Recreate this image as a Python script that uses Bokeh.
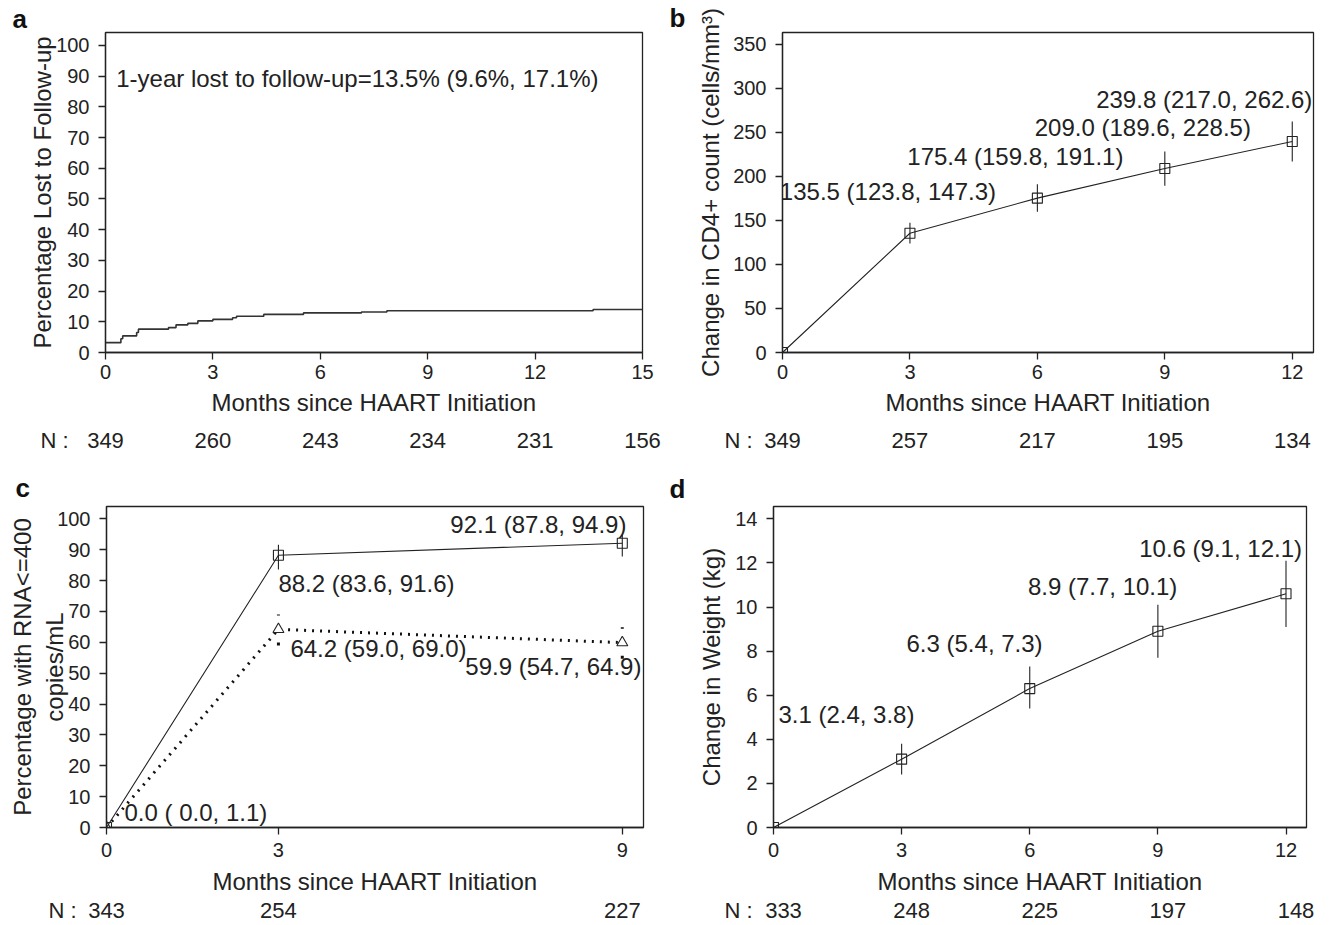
from bokeh.plotting import figure
from bokeh.models import (Range1d, FixedTicker, Label, LabelSet, ColumnDataSource,
                          LinearAxis, Title)
from bokeh.core.properties import value
from bokeh.layouts import column, row
from bokeh.embed import file_html
from bokeh.resources import INLINE

FONT = "Liberation Sans"
INK = "#222222"

# ---------------- data ----------------
# a: Kaplan-Meier percentage lost to follow-up (step curve)
km_months = [0, 0.43, 0.48, 0.87, 0.92, 1.76, 1.97, 2.30, 2.58, 3.00, 3.55, 3.66, 4.42, 5.53, 7.15, 7.86, 13.62, 15.0]
km_pct = [3.2, 4.5, 5.4, 6.5, 7.6, 8.1, 9.0, 9.5, 10.3, 10.8, 11.3, 11.8, 12.4, 12.9, 13.2, 13.6, 14.0, 14.0]
a_months = [0, 3, 6, 9, 12, 15]
a_n = [349, 260, 243, 234, 231, 156]
a_note = "1-year lost to follow-up=13.5% (9.6%, 17.1%)"

# b: change in CD4+ count
b_months = [0, 3, 6, 9, 12]
b_cd4 = [0.0, 135.5, 175.4, 209.0, 239.8]
b_lo = [0.0, 123.8, 159.8, 189.6, 217.0]
b_hi = [0.0, 147.3, 191.1, 228.5, 262.6]
b_n = [349, 257, 217, 195, 134]

# c: percentage with RNA <= 400 copies/mL
c_months = [0, 3, 9]
c_sq = [0.0, 88.2, 92.1]
c_sq_lo = [0.0, 83.6, 87.8]
c_sq_hi = [1.1, 91.6, 94.9]
c_tri = [0.0, 64.2, 59.9]
c_tri_lo = [0.0, 59.0, 54.7]
c_tri_hi = [1.1, 69.0, 64.9]
c_n = [343, 254, 227]

# d: change in weight
d_months = [0, 3, 6, 9, 12]
d_kg = [0.0, 3.1, 6.3, 8.9, 10.6]
d_lo = [0.0, 2.4, 5.4, 7.7, 9.1]
d_hi = [0.0, 3.8, 7.3, 10.1, 12.1]
d_n = [333, 248, 225, 197, 148]

XTITLE = "Months since HAART Initiation"
N_FS = 22           # font size of the N row
N_H = 26            # approx. text box height of the N row


def base_fig(w, h, xr, yr, left, right, top, bottom, xticks, yticks, ylabel,
             xstand, xlabstand, ystand, ylabstand, letter, l_off, l_stand):
    p = figure(width=w, height=h, x_range=Range1d(*xr), y_range=Range1d(*yr),
               output_backend="svg", toolbar_location=None,
               min_border_left=left, min_border_right=right,
               min_border_top=top, min_border_bottom=bottom)
    p.xgrid.visible = False
    p.ygrid.visible = False
    p.outline_line_color = INK
    p.outline_line_width = 1.3
    p.outline_line_alpha = 1.0
    p.background_fill_color = "white"
    p.border_fill_color = "white"
    p.xaxis.ticker = FixedTicker(ticks=xticks)
    p.yaxis.ticker = FixedTicker(ticks=yticks)
    p.xaxis.axis_label = XTITLE
    p.yaxis.axis_label = ylabel
    for ax in (p.xaxis[0], p.yaxis[0]):
        ax.axis_line_color = INK
        ax.axis_line_width = 1.3
        ax.major_tick_line_color = INK
        ax.major_tick_line_width = 1.3
        ax.major_tick_in = 0
        ax.major_tick_out = 7
        ax.minor_tick_line_color = None
        ax.major_label_text_font = FONT
        ax.major_label_text_font_size = "20px"
        ax.major_label_text_color = INK
        ax.axis_label_text_font = FONT
        ax.axis_label_text_font_size = "24px"
        ax.axis_label_text_font_style = "normal"
        ax.axis_label_text_color = INK
    p.xaxis.major_label_standoff = xstand
    p.xaxis.axis_label_standoff = xlabstand
    p.yaxis.major_label_standoff = ystand
    p.yaxis.axis_label_standoff = ylabstand
    # panel letter
    p.title.text = letter
    p.title.align = "left"
    p.title.offset = l_off
    p.title.standoff = l_stand
    p.title.text_font = FONT
    p.title.text_font_size = "26px"
    p.title.text_font_style = "bold"
    p.title.text_color = "#111111"
    return p


def n_row(p, months, ns, gap, prefix_off, range_name="default"):
    """N values (an extra below-axis) and the 'N :' prefix (a below-title pulled up onto the same line)."""
    ax = LinearAxis(ticker=FixedTicker(ticks=months),
                    major_label_overrides={m: str(n) for m, n in zip(months, ns)},
                    axis_line_color=None, major_tick_line_color=None,
                    minor_tick_line_color=None, major_tick_in=0, major_tick_out=0,
                    major_label_standoff=gap, major_label_text_font=FONT,
                    major_label_text_font_size=f"{N_FS}px", major_label_text_color=INK,
                    x_range_name=range_name)
    p.add_layout(ax, "below")
    p.add_layout(Title(text="N :", align="left", offset=prefix_off, vertical_align="top",
                       standoff=-2 * N_H + 6,
                       text_font=FONT, text_font_size=f"{N_FS}px", text_font_style="normal",
                       text_color=INK), "below")


def ci_text(v, lo, hi, w_lo=0, w_hi=0):
    return f"{v:.1f} ({lo:{w_lo}.1f}, {hi:{w_hi}.1f})"


def labelset(p, src, align):
    p.add_layout(LabelSet(x="x", y="y", text="t", source=src, x_offset="xo", y_offset="yo",
                          text_align=align, text_baseline="middle",
                          text_font=value(FONT), text_font_size="24px", text_color=INK))


H = 462

# ---------------- panel a ----------------
pa = base_fig(665, H, (0, 15), (0, 104.2), 105, 23, 31, 110,
              a_months, list(range(0, 101, 10)), "Percentage Lost to Follow-up",
              5, 7, 9, -3, "a", -93, -3)
pa.step(km_months, km_pct, mode="after", line_color="#333333", line_width=1.6)
pa.add_layout(Label(x=0.3, y=89.2, text=a_note, text_align="left", text_baseline="middle",
                    text_font=FONT, text_font_size="24px", text_color=INK))
n_row(pa, a_months, a_n, 14, -65)

# ---------------- panel b ----------------
pb = base_fig(664, H, (0, 12.5), (0, 363.6), 117, 16, 31, 110,
              b_months, list(range(0, 351, 50)), "Change in CD4+ count (cells/mm\u00b3)",
              5, 7, 9, 6, "b", -113, 0)
pb.line(b_months, b_cd4, line_color=INK, line_width=1.1)
pb.segment(b_months, b_lo, b_months, b_hi, line_color=INK, line_width=1.1)
pb.scatter(b_months, b_cd4, marker="square", size=10, fill_alpha=0, line_color=INK, line_width=1.1)
b_src = ColumnDataSource(dict(
    x=b_months[1:], y=b_cd4[1:],
    t=[ci_text(v, lo, hi) for v, lo, hi in zip(b_cd4[1:], b_lo[1:], b_hi[1:])],
    xo=[-22, -22, -22, -88], yo=[42, 42, 41, 42]))
labelset(pb, b_src, "center")
n_row(pb, b_months, b_n, 14, -58)

# ---------------- panel c ----------------
pc = base_fig(665, H, (0, 9.37), (0, 104.0), 106, 22, 44, 97,
              c_months, list(range(0, 101, 10)), "Percentage with RNA<=400\ncopies/mL",
              8, 8, 9, -14, "c", -91, 7)
pc.line(c_months, c_tri, line_color="#111111", line_width=3, line_dash="2 6")
pc.segment(c_months[1:], c_tri_lo[1:], c_months[1:], c_tri_hi[1:], line_color="#111111",
           line_width=3, line_dash="3 12")
pc.scatter(c_months, c_tri, marker="triangle", size=11, fill_color="white", line_color=INK, line_width=1.1)
pc.line(c_months, c_sq, line_color=INK, line_width=1.1)
pc.segment(c_months, c_sq_lo, c_months, c_sq_hi, line_color=INK, line_width=1.1)
pc.scatter(c_months, c_sq, marker="square", size=10, fill_alpha=0, line_color=INK, line_width=1.1)
c_src = ColumnDataSource(dict(
    x=c_months + c_months[1:], y=c_sq + c_tri[1:],
    t=([ci_text(v, lo, hi, 4, 4) for v, lo, hi in zip(c_sq, c_sq_lo, c_sq_hi)] +
       [ci_text(v, lo, hi, 4, 4) for v, lo, hi in zip(c_tri[1:], c_tri_lo[1:], c_tri_hi[1:])]),
    xo=[18, 0, -172, 12, -157], yo=[15, -28, 19, -19, -24]))
labelset(pc, c_src, "left")
n_row(pc, c_months, c_n, 5, -58)

# ---------------- panel d ----------------
pd_ = base_fig(664, H, (0, 12.48), (0, 14.56), 108, 23, 44, 97,
               d_months, list(range(0, 15, 2)), "Change in Weight (kg)",
               8, 8, 9, 7, "d", -104, 5)
pd_.line(d_months, d_kg, line_color=INK, line_width=1.1)
pd_.segment(d_months, d_lo, d_months, d_hi, line_color=INK, line_width=1.1)
pd_.scatter(d_months, d_kg, marker="square", size=10, fill_alpha=0, line_color=INK, line_width=1.1)
d_src = ColumnDataSource(dict(
    x=d_months[1:], y=d_kg[1:],
    t=[ci_text(v, lo, hi, 0, 4) for v, lo, hi in zip(d_kg[1:], d_lo[1:], d_hi[1:])],
    xo=[19.5, 19.5, 19.5, 16], yo=[45] * 4))
labelset(pd_, d_src, "right")
# the N row in d sits about 10 px right of the tick marks
pd_.extra_x_ranges = {"nrow": Range1d(-0.234, 12.48 - 0.234)}
n_row(pd_, d_months, d_n, 5, -49, "nrow")

layout = column(row(pa, pb), row(pc, pd_))
open("out.html", "w").write(file_html(layout, INLINE))
